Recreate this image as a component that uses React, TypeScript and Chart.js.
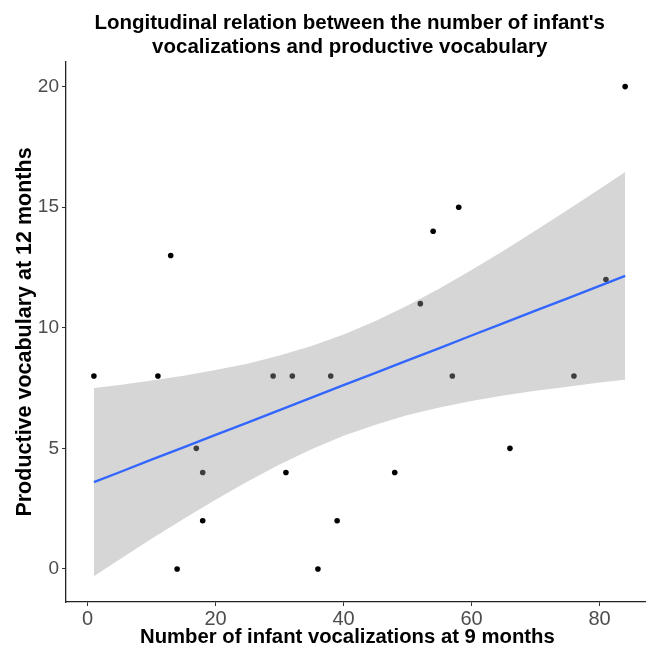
import React, { useEffect, useRef } from "react";
import { Chart, registerables } from "chart.js";

Chart.register(...registerables);

// Observed data (number of infant vocalizations at 9 months, productive vocabulary at 12 months)
const vocalizations = [1, 11, 13, 14, 17, 18, 18, 29, 31, 32, 36, 38, 39, 48, 52, 54, 57, 58, 66, 76, 81, 84];
const vocabulary = [8, 8, 13, 0, 5, 4, 2, 8, 4, 8, 0, 8, 2, 4, 11, 14, 8, 15, 5, 8, 12, 20];

// Linear fit and its confidence band
const fitX = [1, 5, 10, 15, 20, 25, 30, 35, 40, 45, 50, 55, 60, 65, 70, 75, 80, 84];
const fitY = [3.6, 4.01, 4.53, 5.04, 5.56, 6.07, 6.59, 7.1, 7.62, 8.13, 8.65, 9.16, 9.68, 10.19, 10.71, 11.22, 11.74, 12.15];
const bandUpper = [7.5, 7.63, 7.81, 8.01, 8.25, 8.51, 8.85, 9.24, 9.72, 10.28, 10.92, 11.63, 12.4, 13.19, 14.03, 14.88, 15.75, 16.46];
const bandLower = [-0.3, 0.39, 1.25, 2.07, 2.87, 3.63, 4.33, 4.96, 5.52, 5.98, 6.38, 6.69, 6.96, 7.19, 7.39, 7.56, 7.73, 7.84];

const xTicks = [0, 20, 40, 60, 80];
const yTicks = [0, 5, 10, 15, 20];

const titleLines = ["Longitudinal relation between the number of infant's", "vocalizations and productive vocabulary"];
const xTitle = "Number of infant vocalizations at 9 months";
const yTitle = "Productive vocabulary at 12 months";

const FONT = "'Liberation Sans', Arial, Helvetica, sans-serif";

const titlePlugin = {
  id: "texts",
  afterDraw(chart: any) {
    const { ctx, chartArea } = chart;
    const w = chartArea.right - chartArea.left;
    ctx.save();
    ctx.fillStyle = "#000";
    ctx.textAlign = "center";
    ctx.textBaseline = "alphabetic";
    ctx.font = `bold 20.5px ${FONT}`;
    const cx = chartArea.left + w * 0.49;
    ctx.fillText(titleLines[0], cx, 29);
    ctx.fillText(titleLines[1], cx, 53);
    ctx.font = `bold 20.3px ${FONT}`;
    ctx.fillText(xTitle, chartArea.left + w * 0.486, 643);
    ctx.restore();
  },
};

export default function App() {
  const ref = useRef<HTMLCanvasElement | null>(null);

  useEffect(() => {
    if (!ref.current) return;
    const points = vocalizations.map((x, i) => ({ x, y: vocabulary[i] }));
    const fit = fitX.map((x, i) => ({ x, y: fitY[i] }));
    const upper = fitX.map((x, i) => ({ x, y: bandUpper[i] }));
    const lower = fitX.map((x, i) => ({ x, y: bandLower[i] }));

    const chart = new Chart(ref.current, {
      type: "scatter",
      data: {
        datasets: [
          {
            type: "scatter",
            data: points,
            backgroundColor: "#000",
            borderWidth: 0,
            pointRadius: 2.8,
            order: 3,
          } as any,
          {
            type: "line",
            data: upper,
            borderColor: "transparent",
            borderWidth: 0,
            backgroundColor: "rgba(153,153,153,0.4)",
            pointRadius: 0,
            fill: "+1",
            tension: 0,
            order: 2,
          } as any,
          {
            type: "line",
            data: lower,
            borderColor: "transparent",
            borderWidth: 0,
            pointRadius: 0,
            fill: false,
            tension: 0,
            order: 2,
          } as any,
          {
            type: "line",
            data: fit,
            borderColor: "#3366FF",
            borderWidth: 2.4,
            pointRadius: 0,
            fill: false,
            tension: 0,
            order: 1,
          } as any,
        ],
      },
      options: {
        animation: false,
        responsive: false,
        devicePixelRatio: 1,
        layout: { padding: { top: 62, right: 0, left: 0, bottom: 0 } },
        plugins: { legend: { display: false }, tooltip: { enabled: false }, title: { display: false } },
        scales: {
          x: {
            type: "linear",
            min: -3.36,
            max: 87.1,
            afterBuildTicks: (s: any) => {
              s.ticks = xTicks.map((v) => ({ value: v }));
            },
            afterFit: (s: any) => {
              s.height = 48;
            },
            grid: { display: true, drawOnChartArea: false, drawTicks: true, tickLength: 4, color: "#333", lineWidth: 1 },
            border: { display: true, color: "#222", width: 1.3 },
            ticks: { color: "#4d4d4d", font: { family: FONT, size: 20 }, padding: 1, maxRotation: 0 },
            title: { display: false },
          },
          y: {
            type: "linear",
            min: -1.37,
            max: 21.02,
            afterBuildTicks: (s: any) => {
              s.ticks = yTicks.map((v) => ({ value: v }));
            },
            afterFit: (s: any) => {
              s.width = 66;
            },
            grid: { display: true, drawOnChartArea: false, drawTicks: true, tickLength: 4, color: "#333", lineWidth: 1 },
            border: { display: true, color: "#222", width: 1.3 },
            ticks: { color: "#4d4d4d", font: { family: FONT, size: 19 }, padding: 3 },
            title: { display: true, text: yTitle, color: "#000", font: { family: FONT, size: 21.5, weight: "bold" }, padding: { top: 12, bottom: 0 } },
          },
        },
      },
      plugins: [titlePlugin],
    } as any);

    return () => chart.destroy();
  }, []);

  return (
    <div style={{ position: "absolute", left: 0, top: 0, width: 649, height: 650, background: "#fff" }}>
      <canvas ref={ref} width={649} height={650} style={{ display: "block" }} />
    </div>
  );
}
